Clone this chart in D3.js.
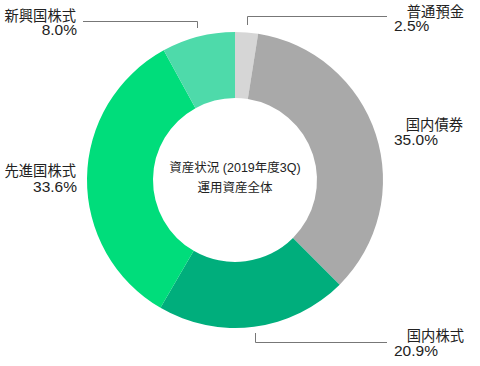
<!DOCTYPE html>
<html>
<head>
<meta charset="utf-8">
<script src="https://cdn.jsdelivr.net/npm/d3@7"></script>
<style>
  body { margin: 0; background: #fff; }
  text { font-family: "Liberation Sans", "Noto Sans CJK JP", sans-serif; fill: #222; }
</style>
</head>
<body>
<svg width="480" height="366"></svg>
<script>
var categories = ['普通預金', '国内債券', '国内株式', '先進国株式', '新興国株式'];
var shares = [2.5, 35.0, 20.9, 33.6, 8.0];
var colors = ['#d6d6d6', '#a9a9a9', '#00ae7c', '#00dd7b', '#4edaaa'];
var centerTitle = ['資産状況 (2019年度3Q)', '運用資産全体'];

var width = 480,
    height = 366,
    cx = 235,
    cy = 180,
    outerR = 148,
    innerR = 82;

var svg = d3.select('svg');

var chart = svg.append('g')
    .attr('transform', 'translate(' + cx + ',' + cy + ')')
    .classed('chart', true);

var arcs = d3.pie().sort(null)(shares);

var path = d3.arc()
    .outerRadius(outerR)
    .innerRadius(innerR);

chart.selectAll('.arc')
    .data(arcs)
    .enter()
    .append('path')
      .classed('arc', true)
      .attr('fill', (d, i) => colors[i])
      .attr('d', path);

// centre title
chart.selectAll('.center')
    .data(centerTitle)
    .enter()
    .append('text')
      .classed('center', true)
      .attr('x', 0)
      .attr('y', (d, i) => -8 + i * 20)
      .attr('text-anchor', 'middle')
      .style('font-size', '12.5px')
      .text(d => d);

// label placement: name / value positions for each slice
var labelPos = [
  {nx: 464, ny: 17, vx: 394, vy: 31, nAnchor: 'end', vAnchor: 'start'},
  {nx: 463, ny: 130, vx: 394, vy: 145, nAnchor: 'end', vAnchor: 'start'},
  {nx: 464, ny: 341, vx: 394, vy: 356, nAnchor: 'end', vAnchor: 'start'},
  {nx: 76, ny: 176, vx: 77, vy: 192, nAnchor: 'end', vAnchor: 'end'},
  {nx: 76, ny: 21, vx: 77, vy: 35, nAnchor: 'end', vAnchor: 'end'}
];

var labels = svg.selectAll('.lbl')
    .data(categories)
    .enter()
    .append('g')
      .classed('lbl', true);

labels.append('text')
    .attr('x', (d, i) => labelPos[i].nx)
    .attr('y', (d, i) => labelPos[i].ny)
    .attr('text-anchor', (d, i) => labelPos[i].nAnchor)
    .style('font-size', '14.3px')
    .text(d => d);

labels.append('text')
    .attr('x', (d, i) => labelPos[i].vx)
    .attr('y', (d, i) => labelPos[i].vy)
    .attr('text-anchor', (d, i) => labelPos[i].vAnchor)
    .style('font-size', '15.5px')
    .text((d, i) => d3.format('.1f')(shares[i]) + '%');

// leader lines
var leaders = [
  [[247.5, 25], [247.5, 16.5], [387, 16.5]],
  [[255.5, 333], [255.5, 342.5], [387, 342.5]],
  [[83, 21.5], [197.5, 21.5], [197.5, 28]]
];

svg.selectAll('.leader')
    .data(leaders)
    .enter()
    .append('path')
      .classed('leader', true)
      .attr('d', d3.line())
      .attr('fill', 'none')
      .attr('stroke', '#777')
      .attr('stroke-width', 1);
</script>
</body>
</html>
